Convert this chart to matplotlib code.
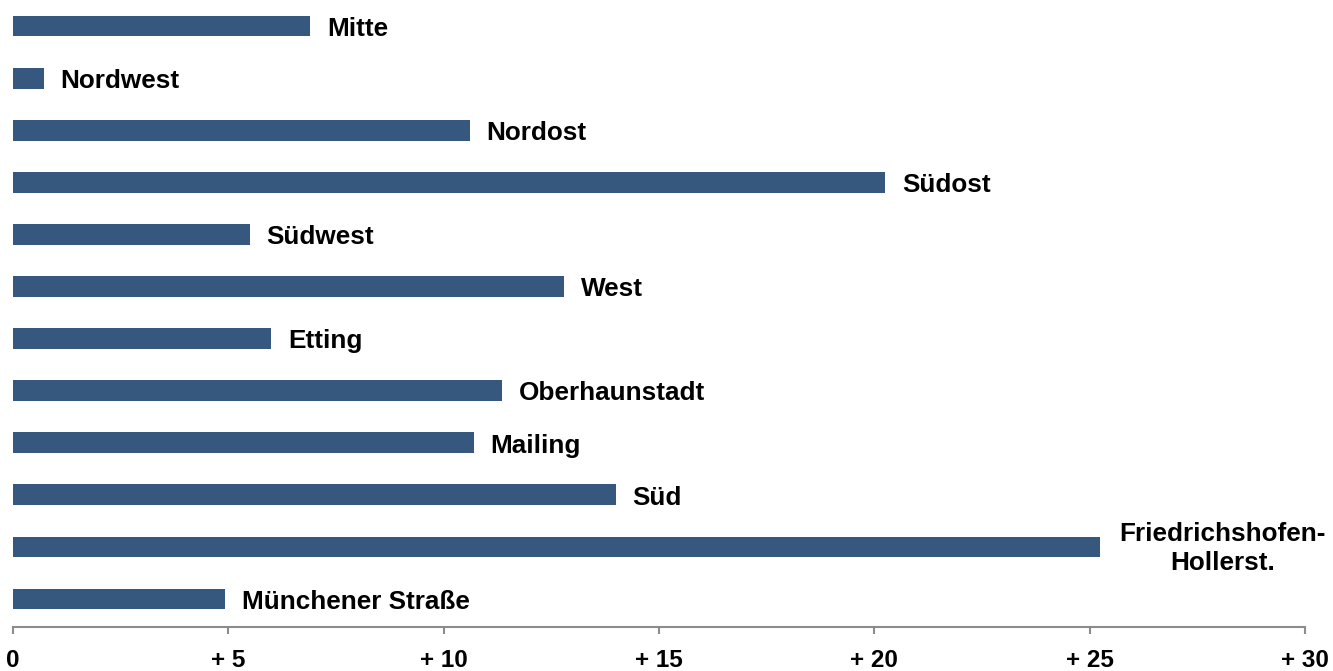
import matplotlib.pyplot as plt

# Stadtbezirke und Werte (von oben nach unten)
bezirke = ["Mitte", "Nordwest", "Nordost", "Südost", "Südwest", "West",
           "Etting", "Oberhaunstadt", "Mailing", "Süd",
           "Friedrichshofen-\nHollerst.", "Münchener Straße"]
werte = [6.9, 0.72, 10.6, 20.25, 5.5, 12.8, 6.0, 11.35, 10.7, 14.0, 25.25, 4.92]
ticks = [0, 5, 10, 15, 20, 25, 30]
tick_labels = ["0", "+ 5", "+ 10", "+ 15", "+ 20", "+ 25", "+ 30"]

fig = plt.figure(figsize=(13.33, 6.71), dpi=100)
ax = fig.add_axes([13 / 1333, 44 / 671, 1292 / 1333, 627 / 671])

pos = list(range(len(bezirke)))
ax.barh(pos, werte, height=0.4, color="#36587f")

for i, (name, v) in enumerate(zip(bezirke, werte)):
    if "\n" in name:
        # zweizeiliges Label, zentriert
        ax.annotate(name, xy=(v, i), xytext=(88, -1), textcoords="offset points",
                    ha="center", va="center", fontsize=18.8, fontweight="bold",
                    family="Liberation Sans", linespacing=1.25)
    else:
        ax.annotate(name, xy=(v, i), xytext=(12, -2), textcoords="offset points",
                    ha="left", va="center", fontsize=18.8, fontweight="bold",
                    family="Liberation Sans")

ax.set_xlim(0, 30)
ax.set_ylim(11.537, -0.5)
ax.set_xticks(ticks)
ax.set_xticklabels(tick_labels, fontsize=17.5, fontweight="bold", family="Liberation Sans")
ax.set_yticks([])
for s in ["top", "right", "left"]:
    ax.spines[s].set_visible(False)
ax.spines["bottom"].set_color("#8c8c8c")
ax.spines["bottom"].set_linewidth(1.5)
ax.tick_params(axis="x", length=5, width=1.5, color="#8c8c8c", pad=11)

fig.savefig("out.png", dpi=100)
